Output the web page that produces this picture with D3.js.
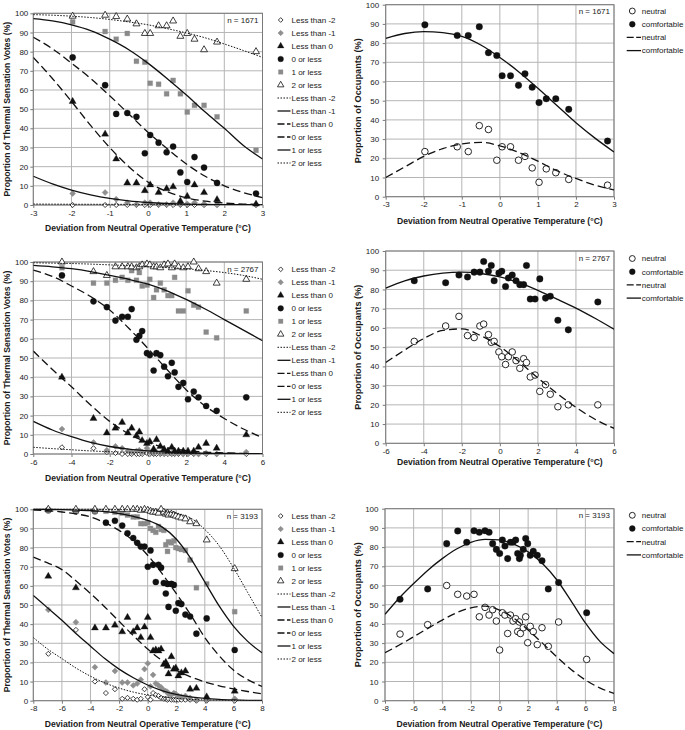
<!DOCTYPE html>
<html><head><meta charset="utf-8">
<script src="https://cdn.jsdelivr.net/npm/d3@7"></script>
<style>
body{margin:0;background:#fff}
svg{display:block}
text{font-family:"Liberation Sans",Arial,sans-serif;fill:#1a1a1a}
</style>
</head><body>
<svg id="chart" width="685" height="730"></svg>
<script>
// ---------------- DATA ----------------
const LEFT_SERIES = ["Less than -2","Less than -1","Less than 0","0 or less","1 or less","2 or less"];
const RIGHT_SERIES = ["neutral","comfortable"];
const Y_TICKS = [0,10,20,30,40,50,60,70,80,90,100];
const X_TICKS_1 = [-3,-2,-1,0,1,2,3];
const X_TICKS_2 = [-6,-4,-2,0,2,4,6];
const X_TICKS_3 = [-8,-6,-4,-2,0,2,4,6,8];
const N_LABELS = ["n = 1671","n = 2767","n = 3193"];

// Dataset 1 (n = 1671)
const X1 = [-1.97,-1.12,-0.83,-0.54,-0.3,-0.08,0.06,0.28,0.49,0.66,0.85,1.03,1.22,1.47,1.81,2.83];
const D1_lessThanMinus2 = [0,0,0,0,0,0,0,0,0,0,0,0,0,0,0,0];
const D1_lessThanMinus1 = [6,6.5,3,1.2,0.3,1.2,1.2,0.3,0.3,1.2,0.3,0.6,1.2,0.6,0.3,0];
const D1_lessThan0 = [54,37,24,11.5,11.5,7.5,10.5,6.5,8.5,9.5,2,4.5,10.5,6.5,2.8,0.5];
const D1_zeroOrLess = [77,62.5,47.5,48,46,27,36.5,32.5,27.5,30.5,17,12,25,19.5,11.5,6];
const D1_oneOrLess = [95.5,90.5,86.5,89.5,75,74.5,63.5,63,58,65,58,48.5,52,52,46,28.5];
const D1_twoOrLess = [98.5,99,98.3,97,94.5,89.5,89.5,93.5,93.5,96,88,89.5,86.5,81,85,80];
const D1_neutral = [23.5,26,23.5,37,35,19,26,26,19,21,15,7.5,14.5,12.5,9,6];
const D1_comfortable = [89.5,84,84,88.5,75,73.5,63,63,58,64,57,49,51,51,45.5,29];

const FIT1_X = [-3,-2.5,-2,-1.5,-1,-0.5,0,0.5,1,1.5,2,2.5,3];
const F1_lessThanMinus2 = [0.5,0.45,0.4,0.38,0.35,0.33,0.3,0.28,0.26,0.24,0.22,0.2,0.2];
const F1_lessThanMinus1 = [15,11,7.8,5.3,3.4,2.1,1.3,0.8,0.5,0.3,0.2,0.15,0.1];
const F1_lessThan0 = [77,66,54,41.5,30,20,12,7,3.8,2,1,0.5,0.3];
const F1_zeroOrLess = [87.5,81.5,74,66,57,47.5,38,29.5,21.5,15,10,6.5,3.8];
const F1_oneOrLess = [97.2,96,94,91,86.5,81,74,66,57.5,48.5,40,31,24];
const F1_twoOrLess = [99.3,99,98.5,97.8,96.8,95.5,94,92,89.8,87.2,84,80.6,77];
const F1_neutral = [10,15.5,21,25,27.5,28.3,26.5,23,18.5,13.5,9.5,6,3.5];
const F1_comfortable = [82.5,85,86,85.5,83.5,79,72.5,65,56.5,47.5,38.5,30.5,23.3];

// Dataset 2 (n = 2767)
const X2 = [-4.5,-2.85,-2.15,-1.7,-1.35,-1.05,-0.85,-0.6,-0.45,-0.3,-0.05,0.1,0.3,0.45,0.65,0.85,1.05,1.25,1.4,1.6,1.85,2.1,2.4,2.65,3.05,3.6,5.15];
const D2_lessThanMinus2 = [3.5,3,1,0.5,0,0,0,0,0,0,0.5,0,0,0,0,0,0,0,0,0,0,0,0,0,0,0,0];
const D2_lessThanMinus1 = [13,6,2,4,3,1.5,1,1.5,2,1,3,1,0.5,1,0.5,0.5,1,0.5,0.5,0.5,0,0.5,0.5,0,0.5,0,1];
const D2_lessThan0 = [40,18.5,11,13.5,16.5,11,13.5,9.5,11.5,7,5.5,6.5,2.5,7.5,4,2.5,1.5,3.5,1.5,1.5,1.5,1.5,1.5,3.5,5.5,3,10];
const D2_zeroOrLess = [93,79.5,76.5,69.5,71.5,71.5,75.5,59.5,61.5,64,52.5,51.5,43.5,52.5,51.5,45.5,40.5,47.5,42.5,35,37,28.5,32.5,29.5,25,22.5,29.5];
const D2_oneOrLess = [97,89,89,90.5,92,90.5,95.5,90.5,94.5,87.5,88,91,81.5,85.5,89,85.5,82.5,82.5,92,74.5,74.5,85,77.5,76.5,63.5,60.5,74.5];
const D2_twoOrLess = [100,95,93,97.5,97.5,97.5,97.5,97,97.5,98.5,99,98.5,97.5,97.5,97,98.5,99,97,99,97.5,97,97.5,100,96.5,95,89,91];
const D2_neutral = [53,61,66,56,55,61,62,56.5,52.5,53,47.5,45,41,45,47.5,43,39,44,42,34.5,35.5,27,30.5,25.5,19,20,20];
const D2_comfortable = [84.5,83.5,87.5,86.5,89,89,94.5,89.5,92.5,84.5,88.5,89.5,81.5,86,87.5,84.5,82.5,82.5,92.5,75,75,85.5,75.5,76.5,64,59,73.5];

const FIT2_X = [-6,-5,-4,-3,-2,-1,0,1,2,3,4,5,6];
const F2_lessThanMinus2 = [3.5,2.8,2.2,1.6,1.2,0.9,0.6,0.45,0.3,0.2,0.15,0.1,0.1];
const F2_lessThanMinus1 = [17,12.5,9,6,3.9,2.5,1.6,1,0.6,0.4,0.3,0.2,0.1];
const F2_lessThan0 = [53.6,44,35,25.5,17,10.5,6,3.3,1.8,1,0.6,0.3,0.2];
const F2_zeroOrLess = [95.8,92.5,87.5,82,75,65.5,55,44,33.5,25,18.5,13,8.5];
const F2_oneOrLess = [98.2,97.5,96.5,95,93,91,88.5,85,80.5,75.5,70,64.5,59];
const F2_twoOrLess = [99.6,99.4,99.2,98.9,98.5,98.1,97.6,97.1,96.5,95.6,94.5,93,91];
const F2_neutral = [42,48.5,54.5,58.7,59.5,56,50.3,42.5,34,26,18.7,12.5,7.8];
const F2_comfortable = [80.7,84.5,87,88.5,89,88.3,86.5,83.5,79.5,75,70.3,65,59.3];

// Dataset 3 (n = 3193)
const X3 = [-6.95,-5.02,-3.69,-2.92,-2.29,-1.78,-1.41,-1.01,-0.73,-0.48,-0.22,0.01,0.2,0.38,0.57,0.76,0.94,1.13,1.27,1.39,1.46,1.66,1.83,1.97,2.15,2.36,2.64,2.97,3.41,4.13,6.09];
const D3_lessThanMinus2 = [24.5,37,10,4,6,1,1.5,1,0.5,1,6,2,0.5,4,3,2.5,1.5,1,1,0.5,1,0.5,0.5,0.5,0.5,0.5,0.5,0.5,0,0,0];
const D3_lessThanMinus1 = [47.5,41,17.5,9.5,15.5,9.5,9.5,8,9,11,16.5,19.5,7.5,13.5,9,8,7,5.5,5,4.5,3.5,3,4,3.5,2.5,2,2.5,1.5,0.5,0.5,1];
const D3_lessThan0 = [65,59,38,38,39.5,36,43.5,36,38,33,38.5,43.5,33,26,26.5,26,27,19,20,18,14,23,16.5,17,13,14.5,15.5,6,6.5,2,5];
const D3_zeroOrLess = [99.5,99,99,93,94,91.5,87.5,85,82.5,80.5,80.5,70,78.5,71,62,71,69.5,61.5,56,61,49,61,60.5,47,51,50.5,45,44,35,43,26.5];
const D3_oneOrLess = [99.5,99,99,99,98.5,98,97,96,96,92.5,92.5,93,90,89,88,91,89.5,89,81.5,78,83,82.5,83.5,80,79.5,79,78.5,73.5,59,61,46.5];
const D3_twoOrLess = [100,100,100,100,100,100,100,100,100,99.5,100,99.5,99,98.5,98.5,98,100,98.5,97.5,98,97,97.5,97,96.5,96,95.5,95,93.5,92.5,84,69];
const D3_neutral = [34.7,39.6,60,55.4,54.5,55.4,43.7,48.6,44.6,47.4,41.5,26.4,45.8,44.6,35,44.6,41.5,42.7,36,41,35,38,43.7,30.2,38.7,36,29.2,38,28.3,41,21.5];
const D3_comfortable = [52.8,58.2,81.8,88.4,82.5,88.5,87.7,88.5,87.7,81.8,78.8,76.7,83.7,80.6,74,82.5,82.5,83.7,76.7,74,75.7,78.8,84.5,81.8,75.7,77.8,75.7,72.9,58.2,61.5,45.8];

const FIT3_X = [-8,-7,-6,-5,-4,-3,-2,-1,0,1,2,3,4,5,6,7,8];
const F3_lessThanMinus2 = [33,27,22,17,12.8,9.3,6.6,4.5,3,2,1.2,0.7,0.4,0.25,0.15,0.1,0.05];
const F3_lessThanMinus1 = [55,48.5,42,35,28.5,22,16.5,12,8.2,5.3,3.3,2,1.2,0.7,0.4,0.2,0.1];
const F3_lessThan0 = [75,72,68.5,62.5,56,49,41.5,34,27,21,16,12.5,9.8,7.8,6.2,4.8,3.6];
const F3_zeroOrLess = [99.6,99.3,98.6,97.6,96,93,89,83.5,76,66.5,56,45,33,23.5,16,11,7.5];
const F3_oneOrLess = [100,99.9,99.8,99.6,99.3,98.8,97.8,96.3,94.2,90.8,84.5,74.5,62,49.5,39,31,25];
const F3_twoOrLess = [100,100,100,100,100,99.95,99.9,99.8,99.6,99,97.8,95.5,89.5,81,69.5,56.5,43.5];
const F3_neutral = [25,29,33.3,37.7,42,45.8,48.4,49.3,47.2,43,36.8,30,22.8,16.3,10.8,6.7,3.8];
const F3_comfortable = [45,53.5,61,68,74,79,82.5,84,83.8,81.5,77.5,71.5,63,52,40.5,31,24.5];

// ---------------- STYLES ----------------
const symbolRhombus = {
  draw(ctx, size) {
    const r = Math.sqrt(size / 2);
    ctx.moveTo(0, -r); ctx.lineTo(r, 0); ctx.lineTo(0, r); ctx.lineTo(-r, 0); ctx.closePath();
  }
};
const markerStyle = {
  "Less than -2": {type: symbolRhombus, size: 13, fill: "#fff", stroke: "#111", sw: 0.8},
  "Less than -1": {type: symbolRhombus, size: 17, fill: "#8f8f8f", stroke: "#8f8f8f", sw: 0.6},
  "Less than 0":  {type: d3.symbolTriangle, size: 22, fill: "#111", stroke: "#111", sw: 0.3},
  "0 or less":    {type: d3.symbolCircle, size: 30, fill: "#111", stroke: "#111", sw: 0.3},
  "1 or less":    {type: d3.symbolSquare, size: 24, fill: "#8a8a8a", stroke: "#8a8a8a", sw: 0.3},
  "2 or less":    {type: d3.symbolTriangle, size: 21, fill: "#fff", stroke: "#111", sw: 0.8},
  "neutral":      {type: d3.symbolCircle, size: 34, fill: "#fff", stroke: "#111", sw: 0.9},
  "comfortable":  {type: d3.symbolCircle, size: 34, fill: "#111", stroke: "#111", sw: 0.3}
};
const lineStyle = {
  "Less than -2": {dash: "1.5,1.5", w: 1.0, legendDash: "1.5,1.5"},
  "Less than -1": {dash: null, w: 1.3, legendDash: null},
  "Less than 0":  {dash: "8,4", w: 1.3, legendDash: "7,2.5"},
  "0 or less":    {dash: "8,4", w: 1.3, legendDash: "7,2.5"},
  "1 or less":    {dash: null, w: 1.3, legendDash: null},
  "2 or less":    {dash: "1.5,1.5", w: 1.0, legendDash: "1.5,1.5"},
  "neutral":      {dash: "8,4", w: 1.3, legendDash: "7,2.5"},
  "comfortable":  {dash: null, w: 1.3, legendDash: null}
};

const LEFT_Y_TITLE = "Proportion of Thermal Sensation Votes (%)";
const RIGHT_Y_TITLE = "Proportion of Occupants (%)";
const X_TITLE = "Deviation from Neutral Operative Temperature (\u00B0C)";

// ---------------- PANELS ----------------
const panels = [
  {kind:"left", l:33.3, r:262.5, t:13.3, b:205, xd:[-3,3], xt:X_TICKS_1, n:N_LABELS[0], xTitleY:230.5, legendY:20,
   X:X1, data:[D1_lessThanMinus2,D1_lessThanMinus1,D1_lessThan0,D1_zeroOrLess,D1_oneOrLess,D1_twoOrLess],
   FX:FIT1_X, fits:[F1_lessThanMinus2,F1_lessThanMinus1,F1_lessThan0,F1_zeroOrLess,F1_oneOrLess,F1_twoOrLess]},
  {kind:"right", l:385.7, r:614, t:4.7, b:196.7, xd:[-3,3], xt:X_TICKS_1, n:N_LABELS[0], xTitleY:223.5, legendY:11,
   X:X1, data:[D1_neutral,D1_comfortable], FX:FIT1_X, fits:[F1_neutral,F1_comfortable]},
  {kind:"left", l:33.3, r:262.5, t:262, b:454, xd:[-6,6], xt:X_TICKS_2, n:N_LABELS[1], xTitleY:481, legendY:269.3,
   X:X2, data:[D2_lessThanMinus2,D2_lessThanMinus1,D2_lessThan0,D2_zeroOrLess,D2_oneOrLess,D2_twoOrLess],
   FX:FIT2_X, fits:[F2_lessThanMinus2,F2_lessThanMinus1,F2_lessThan0,F2_zeroOrLess,F2_oneOrLess,F2_twoOrLess]},
  {kind:"right", l:385.7, r:614, t:251, b:443.3, xd:[-6,6], xt:X_TICKS_2, n:N_LABELS[1], xTitleY:465, legendY:258.5,
   X:X2, data:[D2_neutral,D2_comfortable], FX:FIT2_X, fits:[F2_neutral,F2_comfortable]},
  {kind:"left", l:33.3, r:262, t:509.3, b:700.7, xd:[-8,8], xt:X_TICKS_3, n:N_LABELS[2], xTitleY:726.5, legendY:516,
   X:X3, data:[D3_lessThanMinus2,D3_lessThanMinus1,D3_lessThan0,D3_zeroOrLess,D3_oneOrLess,D3_twoOrLess],
   FX:FIT3_X, fits:[F3_lessThanMinus2,F3_lessThanMinus1,F3_lessThan0,F3_zeroOrLess,F3_oneOrLess,F3_twoOrLess]},
  {kind:"right", l:385, r:614, t:508.7, b:700.7, xd:[-8,8], xt:X_TICKS_3, n:N_LABELS[2], xTitleY:727, legendY:515.3,
   X:X3, data:[D3_neutral,D3_comfortable], FX:FIT3_X, fits:[F3_neutral,F3_comfortable]}
];

const svg = d3.select("#chart");

panels.forEach((p, pi) => {
  const names = p.kind === "left" ? LEFT_SERIES : RIGHT_SERIES;
  const x = d3.scaleLinear().domain(p.xd).range([p.l, p.r]);
  const y = d3.scaleLinear().domain([0,100]).range([p.b, p.t]);
  const g = svg.append("g");

  // grid
  g.append("g").selectAll("line").data(p.xt).join("line")
    .attr("x1", d => x(d)).attr("x2", d => x(d)).attr("y1", p.t).attr("y2", p.b)
    .attr("stroke", "#b5b5b5").attr("stroke-width", 1);
  g.append("g").selectAll("line").data(Y_TICKS).join("line")
    .attr("x1", p.l).attr("x2", p.r).attr("y1", d => y(d)).attr("y2", d => y(d))
    .attr("stroke", "#b5b5b5").attr("stroke-width", 1);
  g.append("rect").attr("x", p.l).attr("y", p.t).attr("width", p.r - p.l).attr("height", p.b - p.t)
    .attr("fill", "none").attr("stroke", "#7a7a7a").attr("stroke-width", 1);

  // axes
  const ax = g.append("g").attr("transform", `translate(0,${p.b})`)
    .call(d3.axisBottom(x).tickValues(p.xt).tickSize(3).tickSizeOuter(0).tickPadding(2).tickFormat(d => String(d)));
  const ay = g.append("g").attr("transform", `translate(${p.l},0)`)
    .call(d3.axisLeft(y).tickValues(Y_TICKS).tickSize(3).tickSizeOuter(0).tickPadding(p.kind === "left" ? 2 : 3.5).tickFormat(d => String(d)));
  [ax, ay].forEach(a => {
    a.select(".domain").remove();
    a.selectAll(".tick line").attr("stroke", "#7a7a7a");
    a.selectAll(".tick text").attr("font-size", 8).attr("fill", "#1a1a1a")
      .style("font-family", '"Liberation Sans", Arial, sans-serif');
  });

  // axis titles
  g.append("text").attr("x", (p.l + p.r) / 2).attr("y", p.xTitleY).attr("text-anchor", "middle")
    .attr("font-size", 8.6).attr("font-weight", "bold").text(X_TITLE);
  const ytx = p.kind === "left" ? 10.2 : 360.5;
  g.append("text").attr("transform", `translate(${ytx},${(p.t + p.b) / 2}) rotate(-90)`)
    .attr("text-anchor", "middle").attr("font-size", p.kind === "left" ? 8.6 : 9.2).attr("font-weight", "bold")
    .text(p.kind === "left" ? LEFT_Y_TITLE : RIGHT_Y_TITLE);

  // n label
  g.append("text").attr("x", p.r - 4).attr("y", p.t + 9.5).attr("text-anchor", "end")
    .attr("font-size", 8).text(p.n);

  // clip
  const cid = "clip" + pi;
  svg.append("clipPath").attr("id", cid).append("rect")
    .attr("x", p.l).attr("y", p.t - 2).attr("width", p.r - p.l).attr("height", p.b - p.t + 2);

  // markers
  names.forEach((nm, si) => {
    const st = markerStyle[nm];
    const sym = d3.symbol().type(st.type).size(st.size);
    g.append("g").selectAll("path").data(p.X.map((xv, i) => [xv, p.data[si][i]])).join("path")
      .attr("transform", d => `translate(${x(d[0])},${y(d[1])})`)
      .attr("d", sym).attr("fill", st.fill).attr("stroke", st.stroke).attr("stroke-width", st.sw);
  });

  // fitted lines
  const line = d3.line().x(d => x(d[0])).y(d => y(d[1])).curve(d3.curveMonotoneX);
  names.forEach((nm, si) => {
    const ls = lineStyle[nm];
    g.append("path").attr("clip-path", `url(#${cid})`)
      .datum(p.FX.map((xv, i) => [xv, p.fits[si][i]]))
      .attr("d", line).attr("fill", "none").attr("stroke", "#111").attr("stroke-width", ls.w)
      .attr("stroke-dasharray", ls.dash);
  });

  // legend
  const lg = g.append("g");
  if (p.kind === "left") {
    const mx = 280.7, tx = 291.5, step = 13.0;
    names.forEach((nm, i) => {
      const yy = p.legendY + i * step;
      const st = markerStyle[nm];
      lg.append("path").attr("transform", `translate(${mx},${yy})`)
        .attr("d", d3.symbol().type(st.type).size(st.size * 0.85))
        .attr("fill", st.fill).attr("stroke", st.stroke).attr("stroke-width", st.sw);
      lg.append("text").attr("x", tx).attr("y", yy).attr("dy", "0.35em").attr("font-size", 8).text(nm);
    });
    names.forEach((nm, i) => {
      const yy = p.legendY + (i + 6) * step;
      const ls = lineStyle[nm];
      lg.append("line").attr("x1", 277.5).attr("x2", 290.5).attr("y1", yy).attr("y2", yy)
        .attr("stroke", "#111").attr("stroke-width", ls.w).attr("stroke-dasharray", ls.legendDash);
      lg.append("text").attr("x", tx).attr("y", yy).attr("dy", "0.35em").attr("font-size", 8).text(nm);
    });
  } else {
    const mx = 632.3, tx = 641.7, step = 13.2;
    names.forEach((nm, i) => {
      const yy = p.legendY + i * step;
      const st = markerStyle[nm];
      lg.append("path").attr("transform", `translate(${mx},${yy})`)
        .attr("d", d3.symbol().type(st.type).size(st.size * 0.8))
        .attr("fill", st.fill).attr("stroke", st.stroke).attr("stroke-width", st.sw);
      lg.append("text").attr("x", tx).attr("y", yy).attr("dy", "0.35em").attr("font-size", 8).text(nm);
    });
    names.forEach((nm, i) => {
      const yy = p.legendY + (i + 2) * step;
      const ls = lineStyle[nm];
      lg.append("line").attr("x1", 626.7).attr("x2", 641).attr("y1", yy).attr("y2", yy)
        .attr("stroke", "#111").attr("stroke-width", ls.w).attr("stroke-dasharray", ls.legendDash);
      lg.append("text").attr("x", tx).attr("y", yy).attr("dy", "0.35em").attr("font-size", 8).text(nm);
    });
  }
});
</script>
</body></html>
